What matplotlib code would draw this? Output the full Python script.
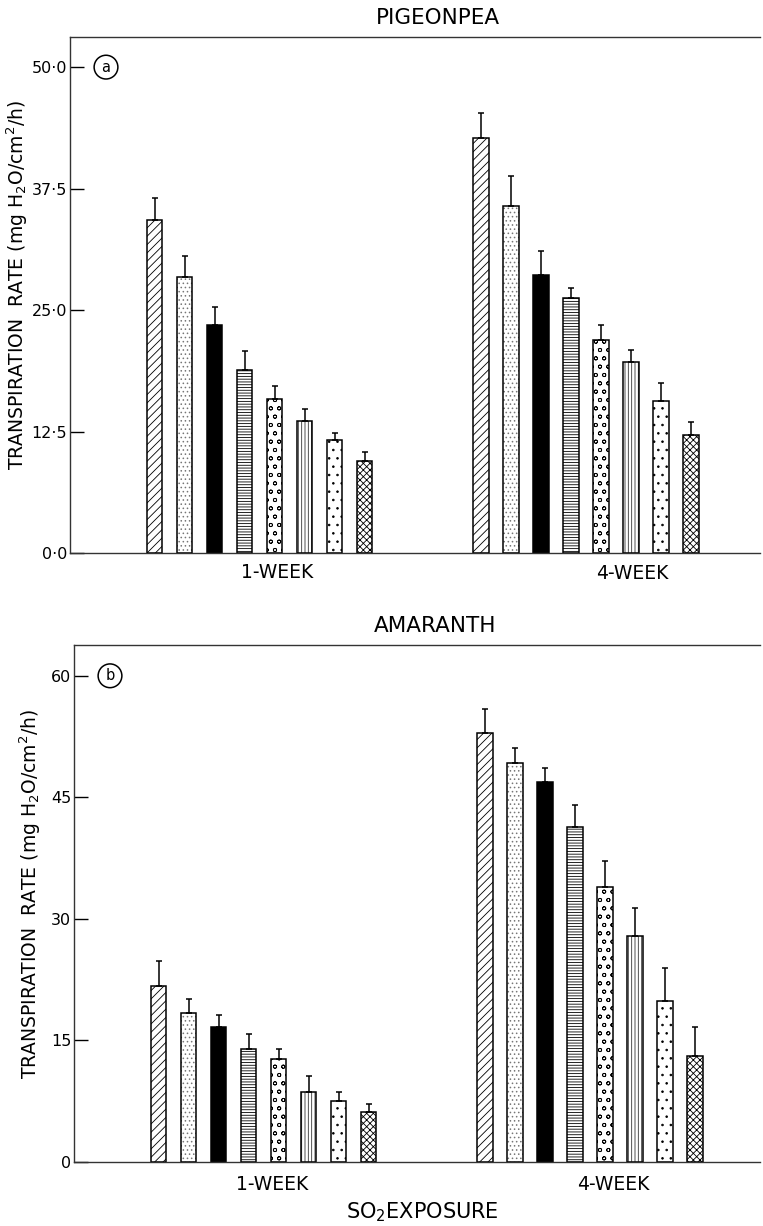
#SO2 exposure - transpiration rate bar charts (pigeonpea / amaranth)
import matplotlib
matplotlib.use("Agg")
import matplotlib.pyplot as plt
import numpy as np

plt.rcParams['font.family'] = ['DejaVu Sans']
plt.rcParams['hatch.linewidth'] = 0.6

#----------------------------- data -----------------------------
groups = ['1-WEEK', '4-WEEK']

pigeonpea_1wk = [34.3, 28.4, 23.5, 18.8, 15.8, 13.6, 11.6, 9.5]
pigeonpea_1wk_err = [2.2, 2.2, 1.8, 2.0, 1.4, 1.2, 0.8, 0.9]
pigeonpea_4wk = [42.7, 35.7, 28.6, 26.2, 21.9, 19.7, 15.6, 12.1]
pigeonpea_4wk_err = [2.6, 3.1, 2.5, 1.1, 1.6, 1.2, 1.9, 1.4]

amaranth_1wk = [21.7, 18.4, 16.7, 14.0, 12.7, 8.6, 7.5, 6.2]
amaranth_1wk_err = [3.1, 1.7, 1.4, 1.8, 1.2, 2.0, 1.1, 0.9]
amaranth_4wk = [53.0, 49.2, 46.9, 41.3, 33.9, 27.9, 19.9, 13.1]
amaranth_4wk_err = [2.9, 1.9, 1.7, 2.7, 3.3, 3.4, 4.0, 3.6]

pp_ticks = [0, 12.5, 25, 37.5, 50]
pp_ticklabels = ['0·0', '12·5', '25·0', '37·5', '50·0']
am_ticks = [0, 15, 30, 45, 60]
am_ticklabels = ['0', '15', '30', '45', '60']

#---------------------- styles of the 8 bars ----------------------
hatches = ['////', '....', '', '------', 'oo', '|||||', '..', 'xxxxx']
faces = ['white', 'white', 'black', 'white', 'white', 'white', 'white', 'white']
hcolors = ['black', '#777777', 'black', 'black', 'black', '#333333', 'black', 'black']

W, H = 763, 1226
fig = plt.figure(figsize=(W/100, H/100), dpi=100)


def panel(left, top, bottom, ymax, v1, e1, v4, e4, ticks, ticklabels, letter,
          title, title_x, title_y, lab_pos, ylab_x):
    right = 760
    ax = fig.add_axes([left/W, 1-bottom/H, (right-left)/W, (bottom-top)/H])
    n = len(v1)
    x1 = 2.82 + np.arange(n)
    x4 = 13.7 + np.arange(n)
    for xs, vals, errs in [(x1, v1, e1), (x4, v4, e4)]:
        for i in range(n):
            # hatch layer then black outline
            ax.bar(xs[i], vals[i], width=0.52, color=faces[i], edgecolor=hcolors[i],
                   hatch=hatches[i], linewidth=0, zorder=2)
            ax.bar(xs[i], vals[i], width=0.52, fill=False, edgecolor='black',
                   linewidth=1.1, zorder=2.5)
        ax.errorbar(xs, vals, yerr=[np.zeros(n), errs], fmt='none', ecolor='black',
                    elinewidth=1.1, capsize=2, capthick=1.1, zorder=3)
    ax.set_xlim(0, (right-left)/30)
    ax.set_ylim(0, ymax)
    ax.spines['right'].set_visible(False)
    for s in ['top', 'left', 'bottom']:
        ax.spines[s].set_linewidth(1.0)
        ax.spines[s].set_color('#333333')
    ax.set_yticks(ticks)
    ax.set_yticklabels(ticklabels, fontsize=11.5)
    ax.tick_params(axis='y', direction='in', length=10, width=1.0, pad=2)
    ax.set_xticks([])
    ax.text(1.2, ticks[-1], letter, ha='center', va='center', fontsize=10.5,
            bbox=dict(boxstyle='circle,pad=0.3', fc='white', ec='black', lw=1.1))
    for g, (gx, gy) in zip(groups, lab_pos):
        fig.text(gx/W, 1-gy/H, g, ha='center', va='center', fontsize=13.5)
    fig.text(title_x/W, 1-title_y/H, title, ha='center', va='center', fontsize=15.5)
    ylab = 'TRANSPIRATION  RATE (mg H$_2$O/cm$^2$/h)'
    fig.text(ylab_x/W, 1-(top+bottom)/2/H + 0.008, ylab, rotation=90,
             ha='center', va='center', fontsize=13.5)
    return ax


panel(70, 37, 553, 53.1, pigeonpea_1wk, pigeonpea_1wk_err, pigeonpea_4wk, pigeonpea_4wk_err,
      pp_ticks, pp_ticklabels, 'a', 'PIGEONPEA', 438, 18, [(277, 573), (632, 574)], 17)
panel(74, 645, 1162, 63.8, amaranth_1wk, amaranth_1wk_err, amaranth_4wk, amaranth_4wk_err,
      am_ticks, am_ticklabels, 'b', 'AMARANTH', 435, 626, [(272, 1185), (613, 1184)], 30)

fig.text(422/W, 1-1212/H, 'SO$_2$EXPOSURE', ha='center', va='center', fontsize=15)

plt.savefig('out.png', dpi=100)
